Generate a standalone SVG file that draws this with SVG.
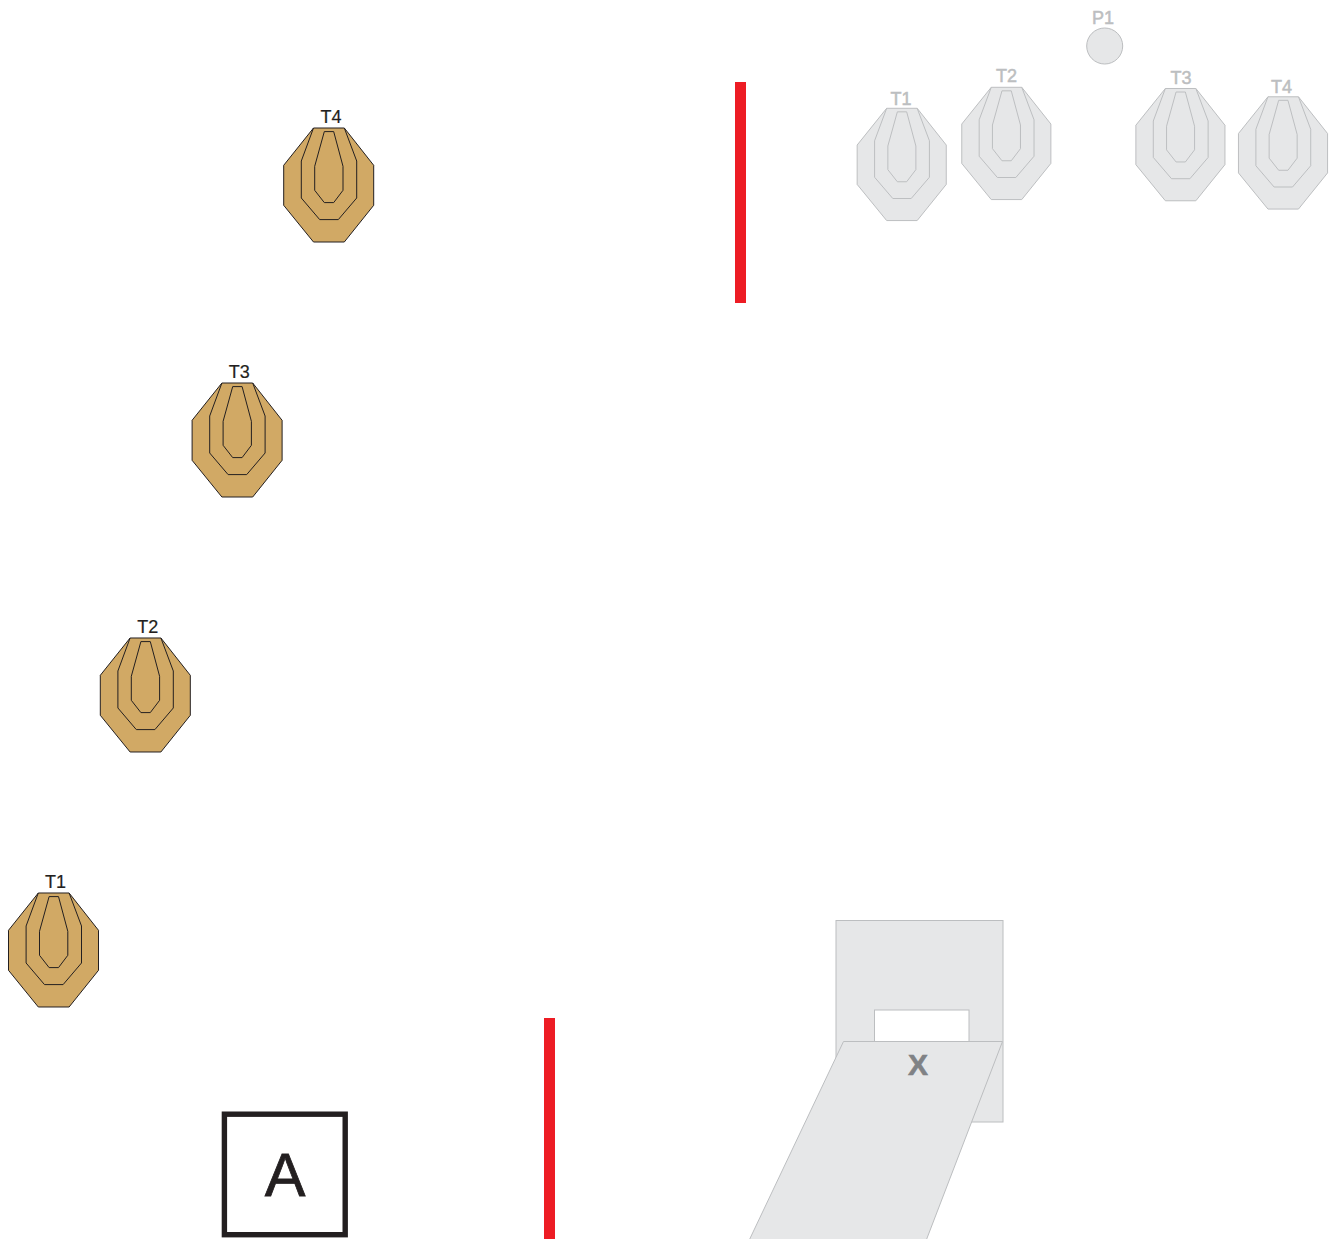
<svg xmlns="http://www.w3.org/2000/svg" width="1338" height="1239" viewBox="0 0 1338 1239">
<style>
text{font-family:"Liberation Sans",Arial,sans-serif;text-anchor:middle}
.lbl{font-size:18px;fill:#231f20;stroke:#231f20;stroke-width:.2}
.glbl{font-size:18px;fill:#bcbec0;stroke:#bcbec0;stroke-width:.5}
.tan{fill:#d1a965;stroke:#231f20;stroke-width:1}
.gry{fill:#e6e7e8;stroke:#bcbec0;stroke-width:1}
.bar{fill:#ed1c24}
.g{fill:#e6e7e8;stroke:#bcbec0;stroke-width:1}
</style>
<defs>
<g id="target">
<path d="M313.5 127.7H344.3L373.7 165V205L344.3 241.7H313.5L283.7 205V165Z"/>
<path fill="none" d="M313.5 127.7L301.3 160.7V197.7L319.7 219.3H338.3L356.7 197.7V160.7L344.3 127.7"/>
<path fill="none" d="M324.3 131.3H333.7L343 166V190L333.7 202.3H324.3L314.7 190V166Z"/>
</g>
</defs>
<g id="target-T4" class="tan"><use href="#target" transform="translate(0 .3)"/><text class="lbl" x="331" y="123">T4</text></g>
<g id="target-T3" class="tan"><use href="#target" transform="translate(-91.6 255.300)"/><text class="lbl" x="239.300" y="378">T3</text></g>
<g id="target-T2" class="tan"><use href="#target" transform="translate(-183.4 510.300)"/><text class="lbl" x="147.800" y="633">T2</text></g>
<g id="target-T1" class="tan"><use href="#target" transform="translate(-275.200 765.300)"/><text class="lbl" x="55.500" y="888">T1</text></g>
<g id="wall-near"><rect class="bar" x="544" y="1018" width="11" height="221"/></g>
<g id="wall-far"><rect class="bar" x="735" y="82" width="11" height="221"/></g>
<g id="box-A">
<rect x="224.400" y="1114.200" width="120.800" height="120.500" fill="#fff" stroke="#231f20" stroke-width="5.400"/>
<text x="285" y="1196" font-size="61" fill="#231f20" stroke="#231f20" stroke-width=".8">A</text>
</g>
<g id="ghost-T1" class="gry"><use href="#target" transform="translate(576.300 -17.500) scale(.99 .985)"/><text class="glbl" x="901" y="105">T1</text></g>
<g id="ghost-T2" class="gry"><use href="#target" transform="translate(680.900 -38.500) scale(.99 .985)"/><text class="glbl" x="1006.500" y="82">T2</text></g>
<g id="ghost-T3" class="gry"><use href="#target" transform="translate(855 -37.300) scale(.99 .985)"/><text class="glbl" x="1181" y="84">T3</text></g>
<g id="ghost-T4" class="gry"><use href="#target" transform="translate(957.600 -29) scale(.99 .985)"/><text class="glbl" x="1281.500" y="92.500">T4</text></g>
<g id="ghost-P1"><circle class="g" cx="1104.700" cy="46" r="18"/><text class="glbl" x="1103" y="24">P1</text></g>
<g id="ghost-stage">
<rect class="g" x="836" y="920.500" width="167" height="201.500"/>
<rect x="874.500" y="1010" width="94.500" height="32" fill="#fff" stroke="#bcbec0"/>
<path class="g" d="M843.500 1041.500H1002.500L926.500 1239.500H749.500Z"/>
<text x="918" y="1074.500" font-size="30" font-weight="700" fill="#808285" stroke="#808285" stroke-width=".6">X</text>
</g>
</svg>
